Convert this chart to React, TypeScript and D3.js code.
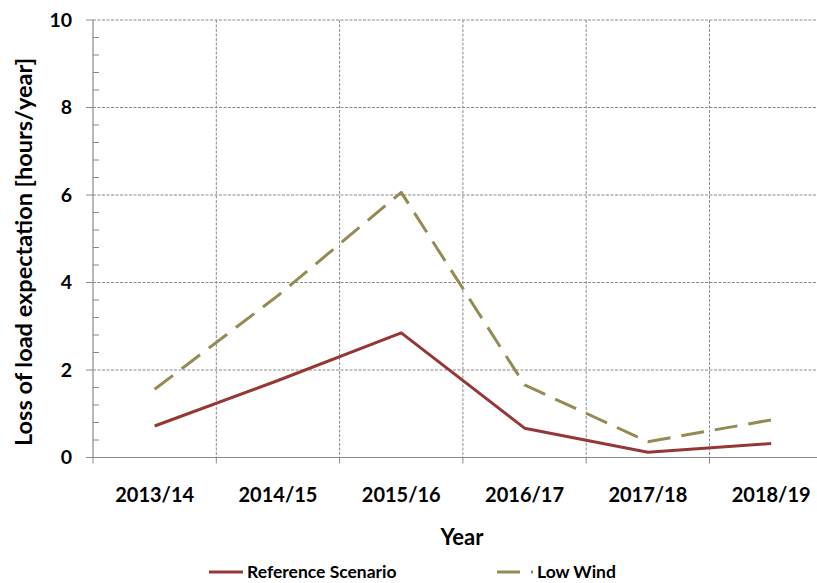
import React from "react";
import * as d3 from "d3";

const categories = ["2013/14", "2014/15", "2015/16", "2016/17", "2017/18", "2018/19"];
const referenceScenario = [0.72, 1.76, 2.85, 0.67, 0.12, 0.32];
const lowWind = [1.56, 3.7, 6.06, 1.66, 0.36, 0.86];
const yTicks = [0, 2, 4, 6, 8, 10];
const seriesNames = ["Reference Scenario", "Low Wind"];

const W = 817;
const H = 583;
const FONT = "Lato, 'Open Sans', sans-serif";
const GRID = "#8a8a8a";
const RED = "#953735";
const OLIVE = "#948A54";

export default function App() {
  const left = 93;
  const top = 20;
  const bottom = 457.5;
  const catW = 123.3;
  const x = d3.scaleBand<string>().domain(categories).range([left, left + catW * categories.length]).padding(0);
  const y = d3.scaleLinear().domain([0, 10]).range([bottom, top]);
  const cx = (c: string) => (x(c) as number) + x.bandwidth() / 2;
  const line = d3
    .line<number>()
    .x((_, i) => cx(categories[i]))
    .y((d) => y(d));

  const minorTicks = d3.range(0, 10.001, 0.4).filter((v) => Math.abs(v / 2 - Math.round(v / 2)) > 1e-6);
  const boundaries = categories.map((c) => x(c) as number).concat([left + catW * categories.length]);
  const right = left + catW * categories.length;

  return (
    <svg width={W} height={H} style={{ position: "absolute", left: 0, top: 0, background: "#fff" }}>
      {yTicks.map((t) =>
        t === 0 ? null : (
          <line key={"hg" + t} x1={left} x2={right} y1={y(t)} y2={y(t)} stroke={GRID} strokeWidth={1} strokeDasharray="3,1.5" />
        )
      )}
      {boundaries.slice(1).map((b, i) => (
        <line key={"vg" + i} x1={b} x2={b} y1={top} y2={bottom} stroke={GRID} strokeWidth={1} strokeDasharray="3,1.5" />
      ))}
      {boundaries.map((b, i) => (
        <line key={"xt" + i} x1={b} x2={b} y1={bottom} y2={bottom + 6} stroke={GRID} strokeWidth={1} />
      ))}
      {yTicks.map((t) => (
        <line key={"yt" + t} x1={left - 7} x2={left} y1={y(t)} y2={y(t)} stroke={GRID} strokeWidth={1} />
      ))}
      {minorTicks.map((t, i) => (
        <line key={"ym" + i} x1={left} x2={left + 6} y1={y(t)} y2={y(t)} stroke={GRID} strokeWidth={1} />
      ))}
      <line x1={left} x2={left} y1={top} y2={bottom} stroke={GRID} strokeWidth={1.2} />
      <line x1={left - 7} x2={right} y1={bottom} y2={bottom} stroke={GRID} strokeWidth={1.2} />

      {yTicks.map((t) => (
        <text key={"yl" + t} x={72} y={y(t)} dy="0.35em" textAnchor="end" fontFamily={FONT} fontWeight={700} fontSize={19.5} fill="#000">
          {t}
        </text>
      ))}
      {categories.map((c) => (
        <text key={"xl" + c} x={cx(c)} y={495} dy="0.35em" textAnchor="middle" fontFamily={FONT} fontWeight={700} fontSize={20} fill="#000">
          {c}
        </text>
      ))}

      <text x={462} y={537} dy="0.35em" textAnchor="middle" fontFamily={FONT} fontWeight={700} fontSize={22} fill="#000">
        Year
      </text>
      <text
        transform={`translate(24,252) rotate(-90)`}
        dy="0.35em"
        textAnchor="middle"
        fontFamily={FONT}
        fontWeight={700}
        fontSize={23.5}
        fill="#000"
      >
        Loss of load expectation [hours/year]
      </text>

      <path d={line(referenceScenario) || ""} fill="none" stroke={RED} strokeWidth={3} strokeLinejoin="round" />
      <path d={line(lowWind) || ""} fill="none" stroke={OLIVE} strokeWidth={3} strokeDasharray="23,11" strokeLinejoin="round" />

      <line x1={209} x2={243} y1={572} y2={572} stroke={RED} strokeWidth={3} />
      <text x={247} y={572} dy="0.35em" fontFamily={FONT} fontWeight={700} fontSize={17.5} fill="#000">
        {seriesNames[0]}
      </text>
      <line x1={497} x2={533} y1={572} y2={572} stroke={OLIVE} strokeWidth={3} strokeDasharray="23,11" />
      <text x={537} y={572} dy="0.35em" fontFamily={FONT} fontWeight={700} fontSize={17.5} fill="#000">
        {seriesNames[1]}
      </text>
    </svg>
  );
}
